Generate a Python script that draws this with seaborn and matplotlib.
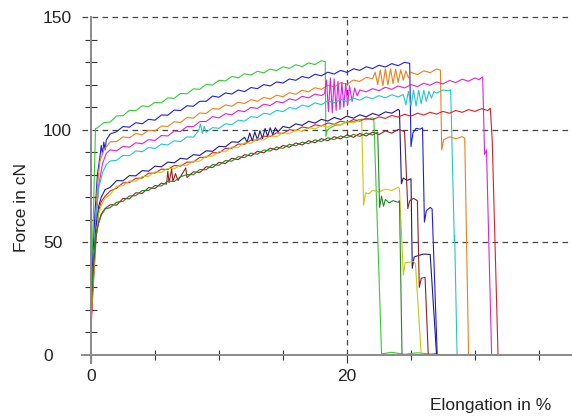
import matplotlib
matplotlib.use("Agg")
import matplotlib.pyplot as plt
import pandas as pd
import seaborn as sns

# Force-elongation records of ten yarn specimens: (elongation in %, force in cN)
lime = [(0.0,28),(0.2,65),(0.35,100.5),(0.5,100.8),(1.0,103.1),(1.5,103.4),(2.0,106.1),(2.5,106.2),(3.0,108.6),(3.5,108.4),(4.0,110.6),(4.5,110.2),(5.0,112.1),(5.5,111.9),(6.0,114.1),(6.5,113.9),(7.0,116.1),(7.5,115.9),(8.0,118.1),(8.5,117.9),(9.0,120.1),(9.5,119.8),(10.0,121.9),(10.5,121.6),(11.0,123.6),(11.5,123.0),(12.0,124.8),(12.5,124.2),(13.0,125.9),(13.5,125.2),(14.0,126.9),(14.5,126.2),(15.0,127.9),(15.5,127.2),(16.0,128.8),(16.5,128.0),(17.0,129.6),(17.5,128.9),(18.0,130.6),(18.3,130.2),(18.35,97.0),(18.45,99.5),(18.6,100.5),(19.0,101.8),(19.5,102.2),(20.0,103.4),(20.5,103.6),(21.0,104.6),(21.5,104.4),(22.0,105.3),(22.1,104.8),(22.7,0.5),(23.5,1.2),(24.5,0.3),(25.5,1.0),(26.5,0.4),(27.0,0.8)]
blue = [(0.0,25),(0.3,62),(0.5,80),(0.7,88),(0.8,93),(0.9,89),(1.0,94.5),(1.1,91),(1.2,95.5),(1.5,98.1),(2.0,99.1),(2.5,101.4),(3.0,101.1),(3.5,103.1),(4.0,102.6),(4.5,104.6),(5.0,104.2),(5.5,106.5),(6.0,106.4),(6.5,108.7),(7.0,108.5),(7.5,110.6),(8.0,110.4),(8.5,112.6),(9.0,112.6),(9.5,114.9),(10.0,114.4),(10.5,116.3),(11.0,115.8),(11.5,117.6),(12.0,116.9),(12.5,118.7),(13.0,118.2),(13.5,120.0),(14.0,119.4),(14.5,121.2),(15.0,120.7),(15.5,122.5),(16.0,121.9),(16.5,123.6),(17.0,122.9),(17.5,124.6),(18.0,123.9),(18.5,125.5),(19.0,124.7),(19.5,126.3),(20.0,125.4),(20.5,127.0),(21.0,126.3),(21.5,127.9),(22.0,127.1),(22.5,128.6),(23.0,127.8),(23.5,129.3),(24.0,128.4),(24.5,129.9),(24.9,129.4),(25.0,92.5),(25.15,98.5),(25.4,100.6),(25.7,100.2),(25.9,100.8),(26.05,59.0),(26.2,64.0),(26.5,65.5),(26.65,64.8),(27.05,0.0)]
orange = [(0.0,20),(0.3,50),(0.5,75),(0.7,86),(1.0,91),(1.5,94.6),(2.0,94.7),(2.5,96.8),(3.0,96.4),(3.5,98.3),(4.0,97.7),(4.5,99.8),(5.0,99.4),(5.5,101.6),(6.0,101.4),(6.5,103.5),(7.0,103.2),(7.5,105.4),(8.0,105.1),(8.5,107.4),(9.0,107.2),(9.5,109.4),(10.0,109.1),(10.5,111.0),(11.0,110.4),(11.5,112.2),(12.0,111.6),(12.5,113.3),(13.0,112.6),(13.5,114.3),(14.0,113.6),(14.5,115.3),(15.0,114.6),(15.5,116.4),(16.0,115.7),(16.5,117.5),(17.0,116.8),(17.5,118.6),(18.0,117.9),(18.5,119.7),(19.0,119.0),(19.5,120.8),(20.0,120.2),(20.5,122.0),(21.0,121.4),(21.5,123.2),(22.0,122.6),(22.2,125.5),(22.4,120.0),(22.6,126.5),(22.8,119.5),(23.0,127.0),(23.2,119.8),(23.4,127.0),(23.6,120.5),(23.8,126.8),(24.0,121.0),(24.2,126.5),(24.4,122.0),(24.6,126.0),(24.8,123.0),(25.0,125.5),(25.5,124.4),(26.0,126.1),(26.5,125.3),(27.0,126.9),(27.3,126.4),(27.4,91.0),(27.55,95.5),(28.0,96.8),(28.5,96.0),(29.0,96.9),(29.2,96.2),(29.5,0.0)]
magenta = [(0.0,15),(0.2,40),(0.4,62),(0.6,75),(0.9,85),(1.2,89.5),(1.5,91.0),(2.0,90.6),(2.5,92.6),(3.0,92.2),(3.5,94.2),(4.0,93.7),(4.5,95.6),(5.0,95.2),(5.5,97.4),(6.0,97.2),(6.5,99.4),(7.0,99.2),(7.5,101.4),(8.0,101.3),(8.5,103.6),(9.0,103.6),(9.5,105.8),(10.0,105.2),(10.5,107.1),(11.0,106.6),(11.5,108.5),(12.0,108.0),(12.5,109.9),(13.0,109.4),(13.5,111.3),(14.0,110.7),(14.5,112.5),(15.0,111.9),(15.5,113.7),(16.0,113.0),(16.5,114.8),(17.0,114.1),(17.5,115.8),(18.0,115.1),(18.25,116.0),(18.4,122.0),(18.55,108.0),(18.7,123.0),(18.85,107.5),(19.0,122.5),(19.15,108.5),(19.3,121.5),(19.45,109.0),(19.6,121.0),(19.75,110.0),(19.9,120.5),(20.05,111.0),(20.2,119.5),(20.4,112.5),(20.6,118.5),(20.8,115.0),(21.0,117.6),(21.5,116.8),(22.0,118.2),(22.5,117.3),(23.0,118.8),(23.5,117.9),(24.0,119.4),(24.5,118.5),(25.0,120.0),(25.5,119.1),(26.0,120.6),(26.5,119.7),(27.0,121.2),(27.5,120.3),(28.0,121.8),(28.5,120.9),(29.0,122.4),(29.5,121.5),(30.0,123.0),(30.3,122.2),(30.6,123.4),(30.75,89.0),(30.9,91.0),(31.3,0.0)]
cyan = [(0.0,18),(0.2,40),(0.4,62),(0.6,74),(0.9,81),(1.2,84.5),(1.5,86.1),(2.0,86.4),(2.5,88.6),(3.0,88.4),(3.5,90.6),(4.0,90.2),(4.5,92.1),(5.0,91.6),(5.5,93.6),(6.0,93.2),(6.5,95.1),(7.0,94.7),(7.5,96.8),(8.0,96.7),(8.4,99.5),(8.55,102.5),(8.7,98.3),(8.85,101.5),(9.0,98.8),(9.5,100.9),(10.0,100.6),(10.5,102.6),(11.0,102.2),(11.5,104.2),(12.0,103.8),(12.5,105.8),(13.0,105.4),(13.5,107.3),(14.0,106.8),(14.5,108.6),(15.0,108.0),(15.5,109.8),(16.0,109.2),(16.5,110.9),(17.0,110.2),(17.5,111.9),(18.0,111.1),(18.5,112.7),(19.0,111.9),(19.5,113.4),(20.0,112.5),(20.5,114.0),(21.0,113.1),(21.5,114.6),(22.0,113.7),(22.5,115.1),(23.0,114.1),(23.5,115.5),(24.0,114.5),(24.4,115.6),(24.6,111.0),(24.8,117.0),(25.0,110.5),(25.2,117.5),(25.4,110.5),(25.6,117.5),(25.8,111.5),(26.0,117.5),(26.2,112.5),(26.4,117.0),(26.6,114.0),(26.8,117.0),(27.0,116.2),(27.5,117.6),(28.0,117.2),(28.1,117.8),(28.39,50.0),(28.41,53.0),(28.43,48.0),(28.6,0.0)]
navy = [(0.0,14),(0.2,38),(0.4,57),(0.6,66),(0.8,70),(1.1,73.4),(1.5,74.4),(2.0,77.4),(2.5,77.3),(3.0,79.6),(3.5,79.5),(4.0,81.8),(4.5,81.6),(5.0,83.8),(5.5,83.5),(6.0,85.6),(6.5,85.3),(7.0,87.3),(7.5,86.9),(8.0,88.9),(8.5,88.6),(9.0,90.6),(9.5,90.4),(10.0,92.6),(10.5,92.4),(11.0,94.6),(11.5,94.4),(12.0,96.6),(12.2,94.5),(12.4,98.5),(12.6,95.0),(12.8,99.0),(13.0,95.5),(13.2,99.5),(13.4,96.0),(13.6,100.5),(13.8,97.0),(14.0,100.8),(14.2,97.8),(14.4,100.8),(14.6,99.0),(15.0,101.4),(15.5,100.8),(16.0,102.6),(16.5,101.9),(17.0,103.7),(17.5,102.9),(18.0,104.6),(18.5,103.8),(19.0,105.4),(19.5,104.5),(20.0,106.0),(20.5,105.1),(21.0,106.6),(21.5,105.7),(22.0,107.2),(22.5,106.3),(23.0,107.9),(23.5,107.3),(24.0,109.0),(24.1,108.5),(24.25,76.0),(24.4,78.5),(24.7,77.5),(25.0,78.2),(25.1,38.5),(25.25,43.5),(25.6,44.2),(26.0,44.8),(26.5,44.6),(27.0,0.0)]
red = [(0.0,12),(0.2,33),(0.4,52),(0.6,64),(0.8,68),(1.1,70.5),(1.5,72.8),(2.0,74.0),(2.5,76.4),(3.0,76.5),(3.5,78.4),(4.0,78.5),(4.5,80.7),(5.0,80.7),(5.5,82.5),(6.0,82.3),(6.5,84.1),(7.0,83.8),(7.5,85.6),(8.0,85.6),(8.5,87.7),(9.0,87.8),(9.5,89.8),(10.0,89.7),(10.5,91.7),(11.0,91.7),(11.5,93.6),(12.0,93.5),(12.5,95.4),(13.0,95.3),(13.5,97.1),(14.0,96.9),(14.5,98.6),(15.0,98.3),(15.5,100.0),(16.0,99.6),(16.5,101.2),(17.0,100.7),(17.5,102.2),(18.0,101.6),(18.5,103.0),(19.0,102.4),(19.5,103.8),(20.0,103.1),(20.5,104.5),(21.0,103.8),(21.5,105.1),(22.0,104.4),(22.5,105.7),(23.0,105.0),(23.5,106.3),(24.0,105.6),(24.5,106.8),(25.0,106.0),(25.5,107.3),(26.0,106.5),(26.5,107.7),(27.0,106.9),(27.5,108.1),(28.0,107.3),(28.5,108.5),(29.0,107.7),(29.5,108.9),(30.0,108.1),(30.5,109.3),(31.0,108.5),(31.2,109.5),(31.35,95.0),(31.8,0.0)]
yellow = [(0.0,16),(0.2,36),(0.4,53),(0.6,62.5),(0.8,66.5),(1.1,69.5),(1.5,71.2),(2.0,74.9),(2.5,75.1),(3.0,77.2),(3.5,77.1),(4.0,79.2),(4.5,79.3),(5.0,81.3),(5.5,81.0),(6.0,82.8),(6.5,82.6),(7.0,84.3),(7.5,84.1),(8.0,86.0),(8.5,86.0),(9.0,88.2),(9.5,88.2),(10.0,90.3),(10.5,90.2),(11.0,92.3),(11.5,92.1),(12.0,94.2),(12.5,93.9),(13.0,95.9),(13.5,95.4),(14.0,97.3),(14.5,96.8),(15.0,98.7),(15.5,98.1),(16.0,99.8),(16.5,99.2),(17.0,100.9),(17.5,100.3),(18.0,101.8),(18.5,101.1),(19.0,102.6),(19.5,102.0),(20.0,103.5),(20.5,103.0),(21.0,104.2),(21.15,103.2),(21.3,66.5),(21.45,72.0),(21.7,71.5),(22.0,73.0),(22.5,72.4),(23.0,73.6),(23.5,73.0),(24.0,74.5),(24.1,73.8),(24.4,35.5),(24.55,41.0),(24.9,41.2),(25.2,41.6),(25.35,40.5),(25.8,0.0)]
darkred = [(0.0,20),(0.2,40),(0.4,53),(0.6,59),(0.8,62.5),(1.1,65),(1.5,66.7),(2.0,66.5),(2.5,69.5),(3.0,69.3),(3.5,72.0),(4.0,71.7),(4.5,74.3),(5.0,73.9),(5.5,76.3),(5.9,75.8),(6.0,81.5),(6.1,76.5),(6.3,82.5),(6.4,77.0),(6.6,80.5),(6.8,77.4),(7.0,79.2),(7.4,83.0),(7.5,78.8),(8.0,81.3),(8.5,81.0),(9.0,83.5),(9.5,83.2),(10.0,85.5),(10.5,85.0),(11.0,87.3),(11.5,86.7),(12.0,88.9),(12.5,88.3),(13.0,90.4),(13.5,89.7),(14.0,91.8),(14.5,91.0),(15.0,93.0),(15.5,92.2),(16.0,94.1),(16.5,93.2),(17.0,95.1),(17.5,94.2),(18.0,96.0),(18.5,95.1),(19.0,96.9),(19.5,95.9),(20.0,97.7),(20.5,96.6),(21.0,98.3),(21.5,97.2),(22.0,98.9),(22.5,97.8),(23.0,99.5),(23.5,98.4),(24.0,100.1),(24.5,99.2),(24.75,65.0),(24.9,68.5),(25.2,69.5),(25.5,68.5),(25.65,30.0),(25.8,34.0),(26.1,34.5),(26.35,0.0)]
darkgreen = [(0.0,22),(0.2,42),(0.4,54),(0.6,58.5),(0.8,62),(1.1,64.8),(1.5,65.4),(2.0,67.8),(2.5,68.2),(3.0,70.6),(3.5,70.7),(4.0,73.0),(4.5,73.0),(5.0,75.2),(5.5,75.0),(6.0,77.2),(6.5,77.0),(7.0,79.1),(7.5,80.1),(8.0,80.0),(8.5,82.3),(9.0,82.2),(9.5,84.5),(10.0,84.2),(10.5,86.3),(11.0,86.0),(11.5,88.0),(12.0,87.6),(12.5,89.6),(13.0,89.1),(13.5,91.0),(14.0,90.5),(14.5,92.3),(15.0,91.7),(15.5,93.5),(16.0,92.8),(16.5,94.5),(17.0,93.8),(17.5,95.5),(18.0,94.7),(18.5,96.4),(19.0,95.6),(19.5,97.2),(20.0,96.4),(20.5,97.9),(21.0,97.0),(21.5,98.5),(22.0,97.6),(22.4,98.9),(22.55,65.5),(22.7,70.5),(22.85,66.0),(23.0,69.0),(23.3,67.5),(23.6,68.5),(24.0,67.8),(24.1,68.5),(24.3,0.0)]

specimens = {
    "lime": lime, "blue": blue, "orange": orange, "magenta": magenta,
    "cyan": cyan, "navy": navy, "red": red, "yellow": yellow,
    "darkred": darkred, "darkgreen": darkgreen,
}
palette = {
    "lime": "#33cc33", "blue": "#1f1fdd", "orange": "#f07f1a", "magenta": "#dd22dd",
    "cyan": "#22c8c8", "navy": "#1a1a88", "red": "#dd2020", "yellow": "#c8c814",
    "darkred": "#992020", "darkgreen": "#228822",
}

x_major = [0, 20]
x_minor = [5, 10, 15, 25, 30, 35]
y_major = [0, 50, 100, 150]
y_minor = [10, 20, 30, 40, 60, 70, 80, 90, 110, 120, 130, 140]

rows = []
for name, pts in specimens.items():
    for e, f in pts:
        rows.append({"elongation": e, "force": f, "specimen": name})
df = pd.DataFrame(rows)

sns.set_theme(style="white")
plt.rcParams["font.family"] = ["Liberation Sans", "DejaVu Sans"]

W, H = 572, 417
fig = plt.figure(figsize=(W / 100, H / 100), dpi=100)
ax = fig.add_axes([82 / W, (H - 363) / H, 490 / W, 347 / H])

sns.lineplot(data=df, x="elongation", y="force", hue="specimen",
             hue_order=list(specimens), palette=palette, sort=False,
             estimator=None, legend=False, linewidth=0.8, ax=ax)

ax.set_xlim(-0.703, 37.58)
ax.set_ylim(-3.55, 150.44)
ax.set_xlabel("")
ax.set_ylabel("")

grid_kw = dict(color="#444444", linewidth=0.9, linestyle=(0, (4.5, 3.5)), zorder=0.5)
for yv in y_major[1:]:
    ax.axhline(yv, **grid_kw)
ax.vlines(20, 0, 150, **grid_kw)

for side in ("top", "right"):
    ax.spines[side].set_visible(False)
ax.spines["left"].set_position(("data", 0))
ax.spines["bottom"].set_position(("data", 0))
ax.spines["left"].set_bounds(-3.55, 150)
ax.spines["bottom"].set_bounds(-0.703, 37.58)
for side in ("left", "bottom"):
    ax.spines[side].set_color("#8a8a8a")
    ax.spines[side].set_linewidth(1.4)

ax.set_xticks(x_major)
ax.set_xticks(x_minor, minor=True)
ax.set_yticks(y_major)
ax.set_yticks(y_minor, minor=True)
ax.set_xticklabels([str(v) for v in x_major])
ax.set_yticklabels([str(v) for v in y_major])

ax.tick_params(axis="both", which="both", bottom=True, left=True, top=False, right=False)
ax.tick_params(axis="x", which="major", direction="out", length=5.8, width=0.8,
               color="#333333", pad=4.5, labelsize=12.5, labelcolor="#222222")
ax.tick_params(axis="x", which="minor", direction="inout", length=7.2, width=0.8,
               color="#333333")
ax.tick_params(axis="y", which="major", length=0, pad=34.5, labelsize=12.5,
               labelcolor="#222222")
ax.tick_params(axis="y", which="minor", direction="inout", length=8.6, width=0.8,
               color="#333333")
for lbl in ax.get_yticklabels():
    lbl.set_horizontalalignment("left")

fig.text(22 / W, 1 - 207 / H, "Force in cN", rotation=90, ha="center", va="center",
         fontsize=12.5, color="#222222")
fig.text(430 / W, 1 - 410 / H, "Elongation in %", ha="left", va="baseline",
         fontsize=12.5, color="#222222")

fig.savefig("out.png", dpi=100)
